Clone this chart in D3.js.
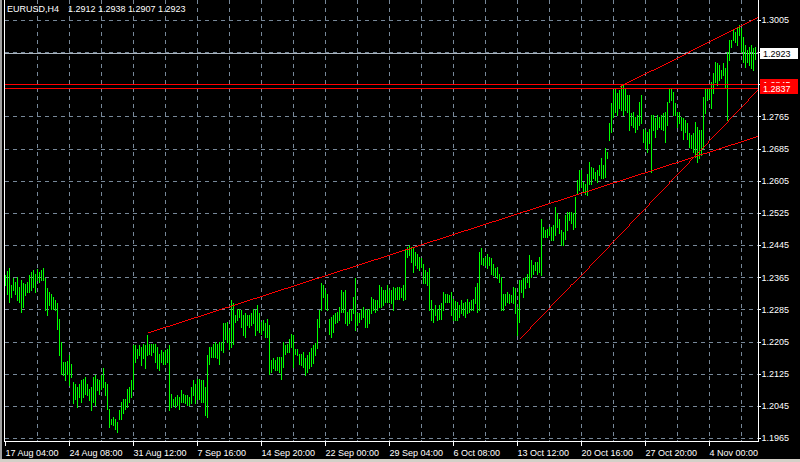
<!DOCTYPE html>
<html>
<head>
<meta charset="utf-8">
<script src="https://cdn.jsdelivr.net/npm/d3@7/dist/d3.min.js"></script>
<style>
html,body{margin:0;padding:0;background:#000;}
svg{display:block;}
text{font-family:"Liberation Sans",Arial,sans-serif;}
</style>
</head>
<body>
<svg id="chart" width="800" height="462"></svg>
<script>
// ---- DATA ----
const symbol = "EURUSD,H4";
const lastOHLC = [1.2912, 1.2938, 1.2907, 1.2923];
const highs = [
1.2370,1.2380,1.2387,1.2345,1.2362,1.2354,1.2366,1.2341,1.2358,1.2350,
1.2347,1.2354,1.2370,1.2378,1.2383,1.2374,1.2385,1.2378,1.2383,1.2387,
1.2362,1.2337,1.2329,1.2324,1.2316,1.2308,1.2300,1.2262,1.2204,1.2154,
1.2154,1.2156,1.2171,1.2150,1.2104,1.2100,1.2092,1.2100,1.2109,1.2113,
1.2117,1.2100,1.2088,1.2092,1.2117,1.2121,1.2113,1.2109,1.2121,1.2138,
1.2104,1.2100,1.2038,1.2013,1.2017,1.2013,1.2005,1.2034,1.2055,1.2063,
1.2063,1.2088,1.2092,1.2109,1.2196,1.2196,1.2187,1.2196,1.2192,1.2200,
1.2196,1.2221,1.2200,1.2200,1.2200,1.2200,1.2192,1.2175,1.2183,1.2179,
1.2183,1.2187,1.2196,1.2075,1.2063,1.2067,1.2071,1.2067,1.2084,1.2075,
1.2071,1.2071,1.2067,1.2092,1.2109,1.2100,1.2113,1.2113,1.2109,1.2109,
1.2092,1.2171,1.2192,1.2192,1.2200,1.2204,1.2200,1.2204,1.2204,1.2250,
1.2250,1.2254,1.2233,1.2308,1.2300,1.2270,1.2287,1.2287,1.2283,1.2270,
1.2275,1.2270,1.2270,1.2275,1.2287,1.2283,1.2295,1.2275,1.2254,1.2258,
1.2250,1.2262,1.2246,1.2158,1.2163,1.2158,1.2167,1.2167,1.2167,1.2204,
1.2196,1.2200,1.2212,1.2225,1.2221,1.2187,1.2187,1.2175,1.2175,1.2179,
1.2163,1.2171,1.2178,1.2188,1.2196,1.2201,1.2262,1.2283,1.2350,1.2345,
1.2333,1.2324,1.2262,1.2266,1.2270,1.2275,1.2279,1.2291,1.2333,1.2329,
1.2333,1.2279,1.2283,1.2287,1.2316,1.2362,1.2275,1.2275,1.2287,1.2291,
1.2283,1.2287,1.2287,1.2316,1.2312,1.2308,1.2308,1.2345,1.2341,1.2333,
1.2333,1.2345,1.2333,1.2333,1.2341,1.2337,1.2341,1.2341,1.2337,1.2345,
1.2432,1.2441,1.2445,1.2441,1.2437,1.2428,1.2424,1.2416,1.2412,1.2399,
1.2383,1.2378,1.2387,1.2308,1.2287,1.2295,1.2287,1.2295,1.2300,1.2329,
1.2324,1.2324,1.2320,1.2329,1.2312,1.2305,1.2304,1.2295,1.2308,1.2300,
1.2304,1.2312,1.2304,1.2308,1.2312,1.2341,1.2350,1.2428,1.2437,1.2412,
1.2416,1.2424,1.2416,1.2412,1.2399,1.2387,1.2391,1.2374,1.2366,1.2324,
1.2324,1.2329,1.2324,1.2320,1.2341,1.2337,1.2291,1.2358,1.2358,1.2362,
1.2366,1.2374,1.2420,1.2407,1.2395,1.2403,1.2403,1.2416,1.2511,1.2490,
1.2482,1.2486,1.2490,1.2490,1.2495,1.2540,1.2524,1.2511,1.2482,1.2478,
1.2519,1.2528,1.2528,1.2528,1.2524,1.2565,1.2607,1.2632,1.2632,1.2602,
1.2598,1.2623,1.2652,1.2640,1.2636,1.2627,1.2632,1.2644,1.2661,1.2644,
1.2686,1.2677,1.2748,1.2798,1.2831,1.2835,1.2823,1.2831,1.2843,1.2847,
1.2835,1.2818,1.2818,1.2773,1.2777,1.2764,1.2768,1.2802,1.2818,1.2735,
1.2731,1.2727,1.2735,1.2768,1.2768,1.2760,1.2768,1.2764,1.2768,1.2773,
1.2777,1.2802,1.2835,1.2835,1.2826,1.2798,1.2777,1.2777,1.2764,1.2760,
1.2756,1.2748,1.2723,1.2719,1.2723,1.2752,1.2739,1.2731,1.2731,1.2814,
1.2835,1.2835,1.2835,1.2851,1.2872,1.2901,1.2897,1.2893,1.2881,1.2897,
1.2885,1.2926,1.2955,1.2955,1.2980,1.2976,1.2988,1.2993,1.2984,1.2963,
1.2943,1.2930,1.2939,1.2943,1.2935,1.2938];
const lows = [
1.2345,1.2324,1.2304,1.2316,1.2333,1.2324,1.2308,1.2304,1.2279,1.2291,
1.2320,1.2329,1.2329,1.2333,1.2341,1.2329,1.2358,1.2354,1.2358,1.2358,
1.2283,1.2270,1.2295,1.2287,1.2287,1.2283,1.2237,1.2171,1.2125,1.2121,
1.2109,1.2125,1.2096,1.2117,1.2051,1.2063,1.2042,1.2067,1.2055,1.2067,
1.2075,1.2071,1.2059,1.2034,1.2055,1.2046,1.2084,1.2075,1.2088,1.2092,
1.2071,1.2038,1.1992,1.2001,1.1997,1.1988,1.1980,1.2013,1.2013,1.2026,
1.2038,1.2042,1.2055,1.2067,1.2088,1.2154,1.2163,1.2171,1.2146,1.2163,
1.2138,1.2171,1.2175,1.2171,1.2179,1.2153,1.2138,1.2134,1.2154,1.2150,
1.2150,1.2154,1.2034,1.2042,1.2046,1.2042,1.2046,1.2038,1.2055,1.2055,
1.2051,1.2046,1.2046,1.2051,1.2071,1.2051,1.2063,1.2063,1.2055,1.2055,
1.2021,1.2017,1.2150,1.2167,1.2167,1.2167,1.2163,1.2150,1.2183,1.2179,
1.2212,1.2204,1.2187,1.2192,1.2200,1.2254,1.2258,1.2266,1.2241,1.2221,
1.2216,1.2246,1.2241,1.2246,1.2250,1.2221,1.2233,1.2229,1.2225,1.2233,
1.2216,1.2216,1.2125,1.2129,1.2138,1.2134,1.2134,1.2129,1.2113,1.2142,
1.2175,1.2179,1.2179,1.2192,1.2142,1.2175,1.2171,1.2150,1.2146,1.2142,
1.2121,1.2129,1.2138,1.2143,1.2151,1.2171,1.2188,1.2241,1.2283,1.2316,
1.2287,1.2283,1.2225,1.2216,1.2229,1.2250,1.2254,1.2258,1.2279,1.2279,
1.2250,1.2246,1.2250,1.2258,1.2275,1.2233,1.2246,1.2254,1.2262,1.2266,
1.2241,1.2241,1.2250,1.2275,1.2283,1.2279,1.2283,1.2291,1.2291,1.2295,
1.2304,1.2304,1.2304,1.2300,1.2283,1.2312,1.2312,1.2312,1.2316,1.2308,
1.2312,1.2416,1.2420,1.2403,1.2378,1.2395,1.2387,1.2383,1.2391,1.2350,
1.2350,1.2345,1.2283,1.2258,1.2254,1.2270,1.2258,1.2262,1.2262,1.2283,
1.2304,1.2304,1.2304,1.2270,1.2258,1.2258,1.2258,1.2266,1.2275,1.2270,
1.2266,1.2275,1.2279,1.2283,1.2283,1.2300,1.2279,1.2283,1.2399,1.2395,
1.2395,1.2387,1.2395,1.2374,1.2370,1.2366,1.2362,1.2354,1.2283,1.2283,
1.2295,1.2304,1.2300,1.2304,1.2300,1.2275,1.2221,1.2254,1.2329,1.2316,
1.2337,1.2354,1.2341,1.2366,1.2374,1.2383,1.2374,1.2378,1.2370,1.2465,
1.2465,1.2465,1.2470,1.2457,1.2457,1.2470,1.2490,1.2474,1.2445,1.2445,
1.2461,1.2482,1.2507,1.2499,1.2486,1.2490,1.2573,1.2582,1.2590,1.2578,
1.2573,1.2569,1.2598,1.2598,1.2611,1.2607,1.2602,1.2619,1.2611,1.2611,
1.2615,1.2661,1.2706,1.2727,1.2764,1.2777,1.2768,1.2785,1.2781,1.2768,
1.2781,1.2777,1.2731,1.2744,1.2739,1.2727,1.2735,1.2744,1.2748,1.2702,
1.2686,1.2677,1.2698,1.2627,1.2731,1.2714,1.2735,1.2739,1.2735,1.2731,
1.2702,1.2744,1.2802,1.2806,1.2768,1.2768,1.2739,1.2748,1.2731,1.2710,
1.2727,1.2710,1.2690,1.2686,1.2677,1.2665,1.2652,1.2661,1.2669,1.2686,
1.2773,1.2806,1.2810,1.2785,1.2823,1.2851,1.2843,1.2856,1.2860,1.2868,
1.2839,1.2756,1.2905,1.2939,1.2955,1.2951,1.2943,1.2968,1.2926,1.2901,
1.2889,1.2901,1.2893,1.2885,1.2881,1.2907];
const priceTicks = [1.1965,1.2045,1.2125,1.2205,1.2285,1.2365,1.2445,1.2525,1.2605,1.2685,1.2765,1.2845,1.2925,1.3005];
const timeLabels = ["17 Aug 04:00","24 Aug 08:00","31 Aug 12:00","7 Sep 16:00","14 Sep 20:00","22 Sep 00:00","29 Sep 04:00","6 Oct 08:00","13 Oct 12:00","20 Oct 16:00","27 Oct 20:00","4 Nov 00:00"];
const timeLabelBars = [0,32,64,96,128,160,192,224,256,288,320,352];
const hLines = [1.2845, 1.2837];
const bidPrice = 1.2923;
// trend lines: [startBar, startPrice, bar2, price2] (rays to the right)
const trendA = [71.5, 1.2228, 200, 1.2434];
const trendB = [307.5, 1.2841, 376.5, 1.3013];
const trendC = [257.5, 1.2213, 376.5, 1.2833];

// ---- DRAW ----
const svg = d3.select("#chart");
const W = 800, H = 462;
const L = 5, R = 758, T = 0, B = 441;
const GRID = "#778899", BAR = "#00ff00", RED = "#ff0000";

svg.append("rect").attr("width", W).attr("height", H).attr("fill", "#000");

const x = d3.scaleLinear().domain([0, highs.length - 1]).range([5, 755]);
const y = d3.scaleLinear().domain([1.1965, 1.3005]).range([438, 20]);

svg.append("defs").append("clipPath").attr("id", "plot")
  .append("rect").attr("x", L).attr("y", T).attr("width", R - L).attr("height", B - T);

// grid
const gridBars = d3.range(16, highs.length, 16);
svg.append("g").selectAll("line").data(gridBars).join("line")
  .attr("x1", d => Math.round(x(d)) + 0.5).attr("x2", d => Math.round(x(d)) + 0.5)
  .attr("y1", T).attr("y2", B)
  .attr("stroke", GRID).attr("stroke-dasharray", "4,4").attr("shape-rendering", "crispEdges");
svg.append("g").selectAll("line").data(priceTicks).join("line")
  .attr("x1", L).attr("x2", R)
  .attr("y1", d => Math.round(y(d)) + 0.5).attr("y2", d => Math.round(y(d)) + 0.5)
  .attr("stroke", GRID).attr("stroke-dasharray", "4,4").attr("shape-rendering", "crispEdges");

// bid line
svg.append("line").attr("x1", L).attr("x2", R)
  .attr("y1", Math.round(y(bidPrice)) + 0.5).attr("y2", Math.round(y(bidPrice)) + 0.5)
  .attr("stroke", "#aab4be").attr("shape-rendering", "crispEdges");

// bars (high-low)
svg.append("g").selectAll("rect").data(highs).join("rect")
  .attr("x", (d, i) => Math.round(x(i)))
  .attr("y", d => Math.round(y(d)))
  .attr("width", 1)
  .attr("height", (d, i) => Math.max(1, Math.round(y(lows[i])) - Math.round(y(d)) + 1))
  .attr("fill", BAR).attr("shape-rendering", "crispEdges");

// objects
const objs = svg.append("g").attr("clip-path", "url(#plot)");
objs.selectAll("line.h").data(hLines).join("line").attr("class", "h")
  .attr("x1", L).attr("x2", R)
  .attr("y1", d => Math.round(y(d)) + 0.5).attr("y2", d => Math.round(y(d)) + 0.5)
  .attr("stroke", RED).attr("shape-rendering", "crispEdges");
// 1-pixel aliased trend rays (one pixel per step, like the terminal draws them)
[trendA, trendB, trendC].forEach(t => {
  const x1 = x(t[0]), y1 = y(t[1]), x2 = x(t[2]), y2 = y(t[3]);
  const xr = R;
  const yr = y1 + (y2 - y1) * (xr - x1) / (x2 - x1);
  const dx = xr - x1, dy = yr - y1;
  const steps = Math.ceil(Math.max(Math.abs(dx), Math.abs(dy)));
  let p = "";
  for (let k = 0; k <= steps; k++) {
    const px = Math.round(x1 + dx * k / steps), py = Math.round(y1 + dy * k / steps);
    p += `M${px},${py}h1v1h-1z`;
  }
  objs.append("path").attr("d", p).attr("fill", RED).attr("shape-rendering", "crispEdges");
});

// frame
svg.append("line").attr("x1", L - 0.5).attr("x2", L - 0.5).attr("y1", T).attr("y2", B + 1).attr("stroke", "#fff").attr("shape-rendering", "crispEdges");
svg.append("line").attr("x1", R + 0.5).attr("x2", R + 0.5).attr("y1", T).attr("y2", B + 1).attr("stroke", "#fff").attr("shape-rendering", "crispEdges");
svg.append("line").attr("x1", L - 1).attr("x2", R + 1).attr("y1", B + 0.5).attr("y2", B + 0.5).attr("stroke", "#fff").attr("shape-rendering", "crispEdges");

// right axis
const ya = svg.append("g").attr("transform", `translate(${R + 0.5},0)`)
  .call(d3.axisRight(y).tickValues(priceTicks).tickSize(2).tickPadding(1).tickFormat(d3.format(".4f")));
ya.select(".domain").remove();
ya.selectAll("line").attr("stroke", "#fff").attr("shape-rendering", "crispEdges");
ya.selectAll("text").attr("fill", "#fff").attr("font-size", 9).attr("font-family", "Liberation Sans, Arial, sans-serif");

// bottom axis
const xa = svg.append("g").attr("transform", `translate(0,${B + 0.5})`)
  .call(d3.axisBottom(x).tickValues(timeLabelBars).tickSize(4).tickFormat((d, i) => timeLabels[i]));
xa.select(".domain").remove();
xa.selectAll("line").attr("stroke", "#fff").attr("shape-rendering", "crispEdges");
xa.selectAll(".tick").attr("transform", d => `translate(${Math.round(x(d)) + 0.5},0)`);
xa.selectAll("text").attr("fill", "#fff").attr("font-size", 9).attr("text-anchor", "start")
  .attr("x", 0).attr("y", 14).attr("dy", 0).attr("font-family", "Liberation Sans, Arial, sans-serif");

// price labels
function priceBox(p, fill, color) {
  const yy = Math.round(y(p));
  svg.append("rect").attr("x", 760).attr("y", yy - 5).attr("width", 38).attr("height", 11)
    .attr("fill", fill).attr("shape-rendering", "crispEdges");
  svg.append("text").attr("x", 763).attr("y", yy + 3.5).attr("fill", color)
    .attr("font-size", 9).text(d3.format(".4f")(p));
}
priceBox(bidPrice, "#fff", "#000");
hLines.forEach(p => priceBox(p, RED, "#fff"));

// header
svg.append("text").attr("x", 7).attr("y", 12).attr("fill", "#fff").attr("font-size", 9).text(symbol);
svg.append("text").attr("x", 68).attr("y", 12).attr("fill", "#fff").attr("font-size", 9)
  .text(lastOHLC.map(d3.format(".4f")).join(" "));

// window edges
svg.append("rect").attr("x", 0).attr("y", 0).attr("width", 2).attr("height", H).attr("fill", "#a0a0a0");
svg.append("rect").attr("x", 0).attr("y", 459).attr("width", W).attr("height", 3).attr("fill", "#d4d0c8");
</script>
</body>
</html>
